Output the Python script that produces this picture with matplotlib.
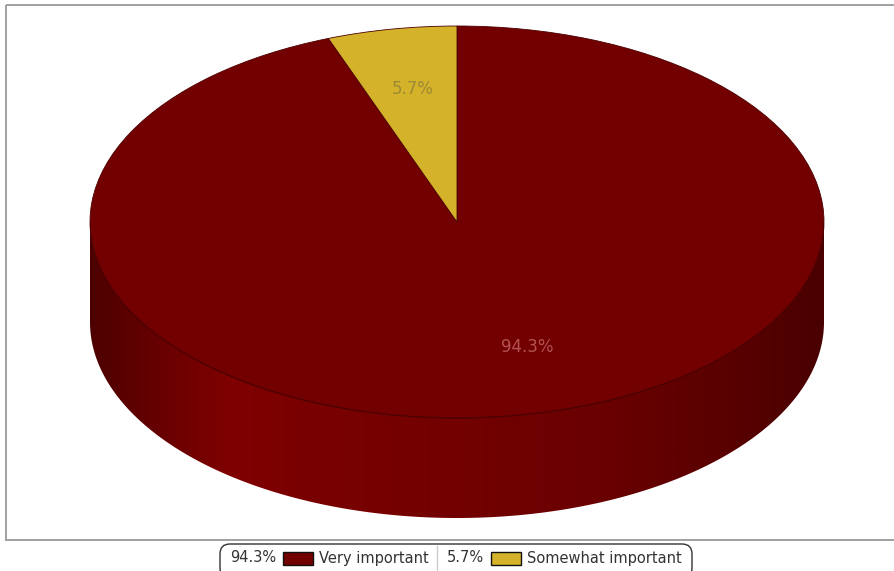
import numpy as np
import matplotlib.pyplot as plt
from matplotlib.patches import Polygon, Rectangle, FancyBboxPatch
from matplotlib.colors import LinearSegmentedColormap

labels = ['Very important', 'Somewhat important']
values = [94.3, 5.7]
colors = ['#730000', '#d4b22a']
label_colors = ['#b25252', '#9c8a35']

W, H = 895, 571
fig = plt.figure(figsize=(W / 100, H / 100), dpi=100)
plt.rcParams['font.family'] = ['DejaVu Sans']

# background axes in pixel coords
bg = fig.add_axes([0, 0, 1, 1])
bg.set_xlim(0, W)
bg.set_ylim(H, 0)
bg.axis('off')
bg.add_patch(Rectangle((6, 5), 892, 535, fill=False, edgecolor='#a0a0a0', lw=1.4))

# pie axes placed over the ellipse
cx, top, left, right, bottom = 457, 26, 90, 824, 518
ry = 196
depth = 100 / ry
pax = fig.add_axes([left / W, 1 - bottom / H, (right - left) / W, (bottom - top) / H])

# side of the cylinder with a horizontal gradient
t = np.linspace(np.pi, 2 * np.pi, 200)
xs = np.cos(t)
ys = np.sin(t)
side_pts = np.concatenate([np.column_stack([xs, ys]),
                           np.column_stack([xs[::-1], ys[::-1] - depth])])
side = Polygon(side_pts, closed=True, facecolor='none', edgecolor='none', zorder=1)
pax.add_patch(side)
cmap = LinearSegmentedColormap.from_list('side', [
    (0.0, '#4e0000'), (0.08, '#640000'), (0.19, '#800000'), (0.28, '#7a0000'),
    (0.49, '#730000'), (0.70, '#6a0000'), (0.88, '#580000'), (1.0, '#4a0000')])
grad = np.linspace(0, 1, 400).reshape(1, -1)
im = pax.imshow(grad, cmap=cmap, extent=(-1, 1, -1 - depth, 0), aspect='auto', zorder=1)
im.set_clip_path(side)
# front rim of the top face
pax.plot(xs, ys, color='#4a0000', lw=0.8, zorder=2.5)

wedges, texts, autotexts = pax.pie(
    values, colors=colors, startangle=90, counterclock=False, radius=1,
    autopct='%.1f%%', pctdistance=0.68,
    wedgeprops=dict(edgecolor='#4a0000', linewidth=0.6),
    textprops=dict(fontsize=12))
for w in wedges:
    w.set_zorder(2)
nudges = [(0.07, 0.03), (0.0, 0.01)]
for at, c, (dx, dy) in zip(autotexts, label_colors, nudges):
    at.set_color(c)
    at.set_zorder(3)
    x, y = at.get_position()
    at.set_position((x + dx, y + dy))

pax.set_aspect('auto')
pax.set_xlim(-1, 1)
pax.set_ylim(-1 - depth, 1)
pax.axis('off')

# legend
bg.add_patch(FancyBboxPatch((220, 544), 472, 34, boxstyle='round,pad=0,rounding_size=10',
                            facecolor='white', edgecolor='#333333', lw=1.0))
bg.plot([437, 437], [546, 571], color='#cccccc', lw=1)
ly = 558
pos = [(230, 283, 319), (447, 491, 527)]
for (tx, sx, nx), lab, v, c in zip(pos, labels, values, colors):
    bg.text(tx, ly, f'{v}%', fontsize=10.5, color='#333333', va='center', ha='left')
    bg.add_patch(Rectangle((sx, ly - 6.5), 30, 13, facecolor=c, edgecolor='#111111', lw=1))
    bg.text(nx, ly, lab, fontsize=10.5, color='#333333', va='center', ha='left')

fig.savefig('out.png', dpi=100)
